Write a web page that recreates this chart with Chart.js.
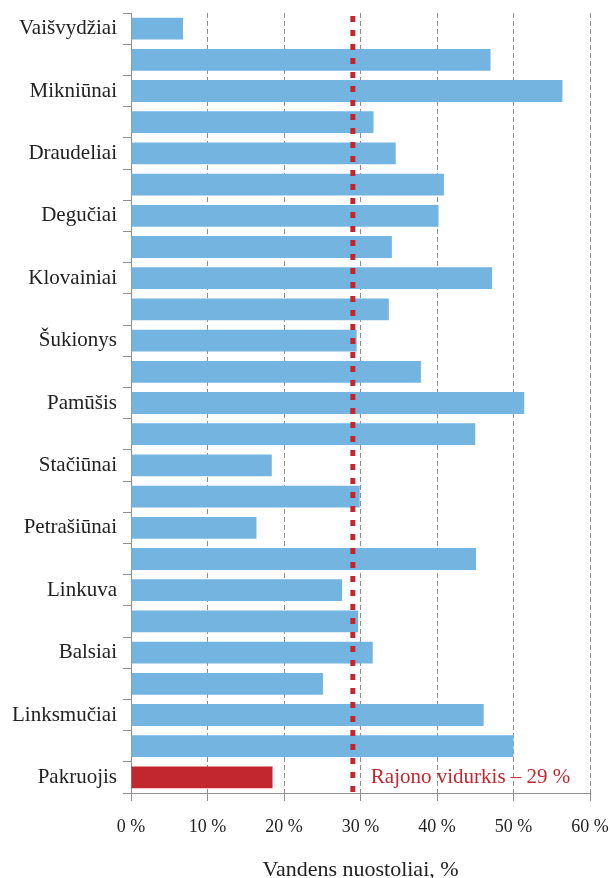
<!DOCTYPE html>
<html>
<head>
<meta charset="utf-8">
<script src="https://cdn.jsdelivr.net/npm/chart.js@4.4.1/dist/chart.umd.min.js"></script>
<style>
    body { margin: 0; background: #fff; }
    canvas { display: block; }
</style>
</head>
<body>
<canvas id="lossChart" width="610" height="878"></canvas>
<script>
// seniūnijos (only every second one is labelled on the axis)
const places = [
    "Vaišvydžiai", "", "Mikniūnai", "", "Draudeliai", "", "Degučiai", "",
    "Klovainiai", "", "Šukionys", "", "Pamūšis", "", "Stačiūnai", "",
    "Petrašiūnai", "", "Linkuva", "", "Balsiai", "", "Linksmučiai", "",
    "Pakruojis"
];

// water losses, %
const losses = [
    6.8, 47.0, 56.4, 31.7, 34.6, 40.9, 40.2, 34.1,
    47.2, 33.7, 29.5, 37.9, 51.4, 45.0, 18.4, 29.9,
    16.4, 45.1, 27.6, 29.7, 31.6, 25.1, 46.1, 50.0,
    18.5
];

const xTicks = [0, 10, 20, 30, 40, 50, 60];
const districtAverage = 29;
const averageLabel = "Rajono vidurkis – 29 %";
const axisTitle = "Vandens nuostoliai, %";

const BLUE = "#74b4e0";
const RED = "#c1272d";
const GREY = "#8f8f8f";
const FONT = "'Liberation Serif', 'Times New Roman', serif";

// last bar (the whole district) is red
const barColors = places.map((p, i) => i === places.length - 1 ? RED : BLUE);

// ---------------------------------------------------
// AVERAGE LINE
// ---------------------------------------------------
const averageLine = {
    id: "averageLine",
    afterDatasetsDraw(chart) {
        const { ctx, chartArea, scales } = chart;
        const x = scales.x.getPixelForValue(districtAverage);
        const yLast = scales.y.getPixelForValue(places.length - 1);

        ctx.save();
        ctx.strokeStyle = RED;
        ctx.lineWidth = 5;
        ctx.setLineDash([6, 8]);
        ctx.beginPath();
        ctx.moveTo(x, chartArea.top + 3);
        ctx.lineTo(x, chartArea.bottom + 1);
        ctx.stroke();

        ctx.setLineDash([]);
        ctx.fillStyle = RED;
        ctx.font = "21px " + FONT;
        ctx.textAlign = "left";
        ctx.textBaseline = "middle";
        ctx.fillText(averageLabel, x + 18, yLast);
        ctx.restore();
    }
};

new Chart(document.getElementById("lossChart"), {
    type: "bar",
    data: {
        labels: places,
        datasets: [{
            data: losses,
            backgroundColor: barColors,
            borderWidth: 0,
            categoryPercentage: 1,
            barPercentage: 0.7
        }]
    },
    options: {
        indexAxis: "y",
        responsive: false,
        animation: false,
        layout: { padding: { top: 13, right: 0, left: 0, bottom: 0 } },
        plugins: {
            legend: { display: false },
            tooltip: { enabled: false }
        },
        scales: {
            x: {
                min: 0,
                max: 60,
                afterBuildTicks: s => { s.ticks = xTicks.map(v => ({ value: v })); },
                afterFit: s => {
                    s.height = 85;
                    s.paddingLeft = 0;
                    s.paddingRight = 20;
                },
                grid: {
                    color: GREY,
                    tickLength: 8,
                    tickBorderDash: []
                },
                border: { color: GREY, dash: [5, 3] },
                ticks: {
                    color: "#222",
                    padding: 15,
                    font: { family: FONT, size: 18 },
                    callback: v => v + " %"
                },
                title: {
                    display: true,
                    text: axisTitle,
                    color: "#222",
                    padding: 0,
                    font: { family: FONT, size: 22, lineHeight: 0.75 }
                }
            },
            y: {
                afterFit: s => {
                    s.width = 131;
                    s.paddingTop = 0;
                    s.paddingBottom = 0;
                },
                grid: {
                    drawOnChartArea: false,
                    color: GREY,
                    tickLength: 8
                },
                border: { color: GREY },
                ticks: {
                    color: "#222",
                    padding: 6,
                    autoSkip: false,
                    font: { family: FONT, size: 21 }
                }
            }
        }
    },
    plugins: [averageLine]
});
</script>
</body>
</html>
